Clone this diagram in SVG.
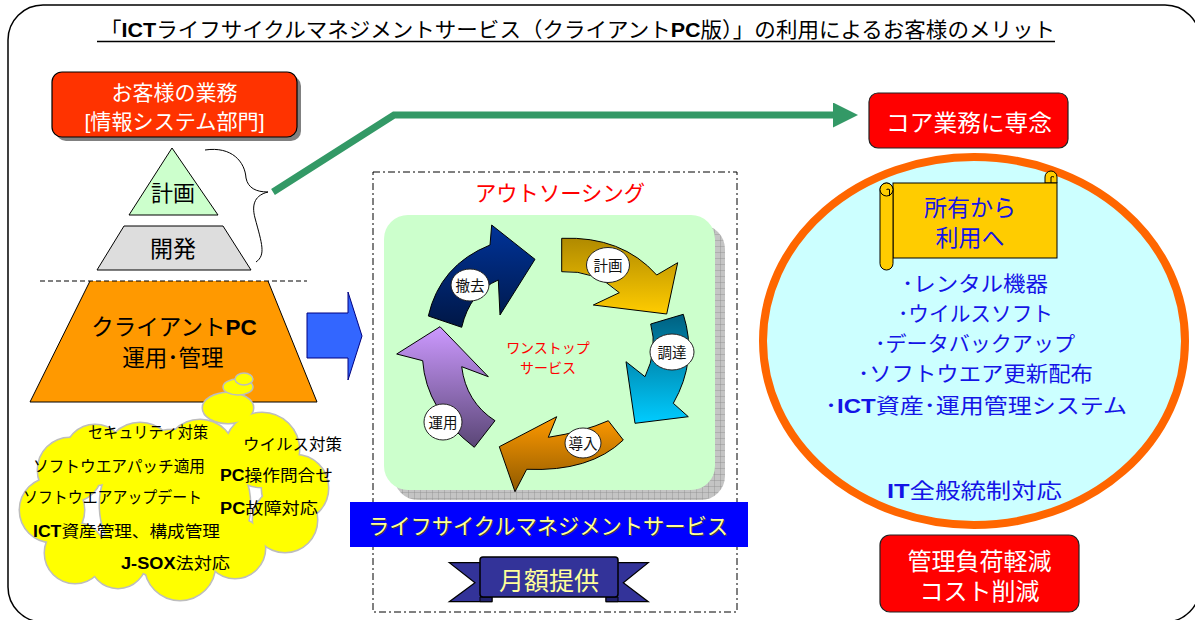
<svg xmlns="http://www.w3.org/2000/svg" xmlns:xlink="http://www.w3.org/1999/xlink" width="1195" height="620" viewBox="0 0 1195 620">
  <style>
    text { font-family: 'Liberation Sans', 'Noto Sans CJK JP', sans-serif; }
    .b { font-weight: bold; }
    .ctr { text-anchor: middle; }
    .edge { stroke: #000; stroke-width: 1; }
    .cloudTxt { font-size: 16px; fill: #000; }
    .lbl { font-size: 14.5px; fill: #111; text-anchor: middle; }
    .lblCircle { fill: #fff; stroke: #222; stroke-width: 1; }
    .cycArrow { stroke: #000; stroke-width: 1; stroke-linejoin: miter; }
    .merit { font-size: 21px; fill: #1414e6; text-anchor: middle; }
  </style>
  <defs>
    <linearGradient id="gNavy" x1="0" y1="0" x2="0" y2="1"><stop offset="0" stop-color="#003399"/><stop offset="1" stop-color="#001746"/></linearGradient>
    <linearGradient id="gGold" x1="0" y1="0" x2="0" y2="1"><stop offset="0" stop-color="#B08A00"/><stop offset="1" stop-color="#FFCC00"/></linearGradient>
    <linearGradient id="gTeal" x1="0" y1="0" x2="0" y2="1"><stop offset="0" stop-color="#006080"/><stop offset="1" stop-color="#00CCFF"/></linearGradient>
    <linearGradient id="gOrange" x1="0" y1="0" x2="0" y2="1"><stop offset="0" stop-color="#FF9900"/><stop offset="1" stop-color="#8F5A00"/></linearGradient>
    <linearGradient id="gPurple" x1="0" y1="0" x2="0" y2="1"><stop offset="0" stop-color="#CC99FF"/><stop offset="1" stop-color="#5A4676"/></linearGradient>
    <pattern id="grid" width="6" height="6" patternUnits="userSpaceOnUse">
      <rect width="6" height="6" fill="#C4C4C4"/>
      <path d="M6,0 L0,0 0,6" fill="none" stroke="#8C8C8C" stroke-width="0.8"/>
    </pattern>
    <marker id="greenHead" markerUnits="userSpaceOnUse" markerWidth="26" markerHeight="26" refX="0" refY="12.5" orient="auto">
      <path d="M0,0 L25,12.5 L0,25 Z" fill="#339966"/>
    </marker>
    <g id="cloudShape">
      <circle cx="70" cy="470" r="32"/>
      <circle cx="52" cy="510" r="32"/>
      <circle cx="75" cy="553" r="30"/>
      <circle cx="118" cy="560" r="28"/>
      <circle cx="180" cy="565" r="35"/>
      <circle cx="235" cy="548" r="30"/>
      <circle cx="285" cy="520" r="32"/>
      <circle cx="295" cy="488" r="33"/>
      <circle cx="262" cy="450" r="37"/>
      <circle cx="200" cy="455" r="35"/>
      <circle cx="140" cy="458" r="35"/>
      <circle cx="95" cy="455" r="30"/>
      <circle cx="175" cy="505" r="75"/>
      <ellipse cx="228" cy="408" rx="25" ry="15"/>
    </g>
  </defs>

  <!-- outer frame -->
  <rect x="8" y="5" width="1192" height="617" rx="35" fill="#fff" stroke="#000" stroke-width="1.5"/>

  <!-- heading -->
  <g id="title">
    <text x="100" y="37" font-size="21" textLength="955" lengthAdjust="spacingAndGlyphs">「<tspan class="b">ICT</tspan>ライフサイクルマネジメントサービス（クライアント<tspan class="b">PC</tspan>版）」の利用によるお客様のメリット</text>
    <line x1="97" y1="41.5" x2="1055" y2="41.5" stroke="#000" stroke-width="1.5"/>
  </g>

  <!-- customer business box -->
  <g id="customer-box">
    <rect x="56" y="76" width="245" height="65" rx="10" fill="#808080"/>
    <rect x="52" y="72" width="245" height="65" rx="10" fill="#FF3300" stroke="#000" stroke-width="1.2"/>
    <text x="174.5" y="100" class="ctr" font-size="21" fill="#fff">お客様の業務</text>
    <text x="174.5" y="129" class="ctr" font-size="21" fill="#fff" textLength="180" lengthAdjust="spacingAndGlyphs">[情報システム部門]</text>
  </g>

  <!-- pyramid -->
  <g id="pyramid-plan">
    <polygon points="172,148 218,215 129,215" fill="#CCFFCC" class="edge"/>
    <text x="173" y="201" class="ctr" font-size="22">計画</text>
  </g>
  <g id="pyramid-dev">
    <polygon points="124,226 223,226 251,270 97,270" fill="#DDDDDD" class="edge"/>
    <text x="173" y="257" class="ctr" font-size="23">開発</text>
  </g>
  <g id="pyramid-ops">
    <polygon points="90,281 268,281 317,402 30,402" fill="#FF9900"/>
    <polyline points="268,281 317,402 30,402 90,281" fill="none" class="edge"/>
    <line x1="40" y1="281" x2="307" y2="281" stroke="#000" stroke-width="1" stroke-dasharray="5 3"/>
    <text x="174" y="335" class="ctr" font-size="22.5">クライアント<tspan class="b">PC</tspan></text>
    <text x="173" y="366" class="ctr" font-size="22.5">運用･管理</text>
  </g>

  <!-- task cloud -->
  <g id="task-cloud">
    <use xlink:href="#cloudShape" fill="#FFFF00" stroke="#BDBDBD" stroke-width="3"/>
    <use xlink:href="#cloudShape" fill="#FFFF00" stroke="none"/>
    <ellipse cx="238" cy="387" rx="15" ry="8" fill="#FFFF00" stroke="#BDBDBD" stroke-width="1.5"/>
    <ellipse cx="244" cy="379" rx="9" ry="6" fill="#FFFF00" stroke="#BDBDBD" stroke-width="1.5"/>
    <text class="cloudTxt" x="88" y="438" textLength="120" lengthAdjust="spacingAndGlyphs">セキュリティ対策</text>
    <text class="cloudTxt" x="243" y="450" textLength="99" lengthAdjust="spacingAndGlyphs">ウイルス対策</text>
    <text class="cloudTxt" x="33" y="472" textLength="172" lengthAdjust="spacingAndGlyphs">ソフトウエアパッチ適用</text>
    <text class="cloudTxt" x="220" y="481" textLength="113" lengthAdjust="spacingAndGlyphs"><tspan class="b">PC</tspan>操作問合せ</text>
    <text class="cloudTxt" x="23" y="503" textLength="179" lengthAdjust="spacingAndGlyphs">ソフトウエアアップデート</text>
    <text class="cloudTxt" x="220" y="514" textLength="98" lengthAdjust="spacingAndGlyphs"><tspan class="b">PC</tspan>故障対応</text>
    <text class="cloudTxt" x="33" y="537" textLength="187" lengthAdjust="spacingAndGlyphs"><tspan class="b">ICT</tspan>資産管理、構成管理</text>
    <text class="cloudTxt" x="121" y="569" textLength="109" lengthAdjust="spacingAndGlyphs"><tspan class="b">J-SOX</tspan>法対応</text>
  </g>

  <!-- outsourcing block arrow -->
  <g id="outsource-arrow">
    <polygon points="307,313 348,313 348,292 362,336 348,380 348,358 307,358" fill="#3366FF" stroke="#000080" stroke-width="1"/>
  </g>

  <!-- outsourcing service -->
  <g id="outsourcing">
    <rect x="373" y="172" width="364" height="440" fill="none" stroke="#000" stroke-width="1" stroke-dasharray="7 3 2 3"/>
    <text x="560" y="201" class="ctr" font-size="22" fill="#FF0000" textLength="170" lengthAdjust="spacingAndGlyphs">アウトソーシング</text>
    <rect x="394" y="225" width="331" height="275" rx="24" fill="url(#grid)"/>
    <rect x="384" y="215" width="331" height="275" rx="24" fill="#CCFFCC"/>
    <text x="548" y="353" class="ctr" font-size="14" fill="#FF0000">ワンストップ</text>
    <text x="548" y="373" class="ctr" font-size="14" fill="#FF0000">サービス</text>
  </g>

  <g id="cycle-remove">
    <path class="cycArrow" fill="url(#gNavy)" d="M428.3,316 Q440,265 490,245 L491.7,225 L535,259.3 L500,315 L498.3,280 Q470,292 461.7,327.3 Z"/>
    <ellipse class="lblCircle" cx="470" cy="285" rx="19" ry="16"/>
    <text class="lbl" x="470" y="290.5">撤去</text>
  </g>
  <g id="cycle-plan">
    <path class="cycArrow" fill="url(#gGold)" d="M561.7,238.3 Q622,236 656.7,275 L677.7,262.7 L666.7,314 L593.3,305 L619.3,292.7 Q595,270 561.7,271.7 Z"/>
    <ellipse class="lblCircle" cx="608" cy="265" rx="21.5" ry="17.5"/>
    <text class="lbl" x="608" y="270.5">計画</text>
  </g>
  <g id="cycle-procure">
    <path class="cycArrow" fill="url(#gTeal)" d="M650.7,324 L683.3,314.3 Q698,360 673.3,403.3 L688.3,416.7 L635,423.3 L626,361.7 L645,376.7 Q658,350 650.7,324 Z"/>
    <ellipse class="lblCircle" cx="672" cy="352" rx="22" ry="18"/>
    <text class="lbl" x="672" y="357.5">調達</text>
  </g>
  <g id="cycle-deploy">
    <path class="cycArrow" fill="url(#gOrange)" d="M608.3,420.7 L623.3,440 Q590,472 526.7,469.3 L515,491.7 L499.3,446.7 L556.7,416.7 L548.3,437.3 Q583,432 608.3,420.7 Z"/>
    <ellipse class="lblCircle" cx="583" cy="443" rx="18" ry="15"/>
    <text class="lbl" x="583" y="448.5">導入</text>
  </g>
  <g id="cycle-operate">
    <path class="cycArrow" fill="url(#gPurple)" d="M474.3,447.3 Q426,410 422.7,360.7 L396.7,354 L440,326.7 L488.3,376.7 L461.7,366.7 Q466,402 495,420.7 Z"/>
    <ellipse class="lblCircle" cx="443" cy="422" rx="19" ry="18"/>
    <text class="lbl" x="443" y="427.5">運用</text>
  </g>

  <!-- lifecycle service banner -->
  <g id="lcm-banner">
    <rect x="350" y="502" width="398" height="45" fill="#0000FF"/>
    <text x="549" y="535" class="ctr" font-size="22" fill="#3a3a3a" textLength="360" lengthAdjust="spacingAndGlyphs">ライフサイクルマネジメントサービス</text>
    <text x="548" y="534" class="ctr" font-size="22" fill="#FFFF99" textLength="360" lengthAdjust="spacingAndGlyphs">ライフサイクルマネジメントサービス</text>
  </g>

  <!-- monthly ribbon -->
  <g id="monthly-ribbon">
    <polygon points="449.3,562.7 492,562.7 492,601.7 449.3,601.7 475,582.7" fill="#333399" stroke="#000" stroke-width="1.2"/>
    <polygon points="648.3,562.7 606,562.7 606,601.7 648.3,601.7 623.3,582.7" fill="#333399" stroke="#000" stroke-width="1.2"/>
    <path d="M480,597 L480,601.7 L492,601.7 L492,597 Z" fill="#22226e" stroke="#000" stroke-width="1"/>
    <path d="M606,597 L606,601.7 L618,601.7 L618,597 Z" fill="#22226e" stroke="#000" stroke-width="1"/>
    <rect x="480" y="557" width="138" height="40" rx="3" fill="#333399" stroke="#000" stroke-width="1.5"/>
    <text x="549" y="590" class="ctr" font-size="25" fill="#FFFF99">月額提供</text>
  </g>

  <!-- connectors -->
  <g id="connectors">
    <path d="M205,150 C232,146 245,162 246,178 C248,188 256,192 268,192 C256,195 251,203 255,218 C262,244 266,255 256,262" fill="none" stroke="#000" stroke-width="1"/>
    <polyline points="273,192 394,115 833,115" fill="none" stroke="#339966" stroke-width="7" marker-end="url(#greenHead)"/>
  </g>

  <!-- core business box -->
  <g id="core-box">
    <rect x="869" y="93" width="199" height="55" rx="9" fill="#FF0000" stroke="#222" stroke-width="1.2"/>
    <text x="969" y="131" class="ctr" font-size="23" fill="#fff" textLength="166" lengthAdjust="spacingAndGlyphs">コア業務に専念</text>
  </g>

  <!-- merits ellipse -->
  <g id="merits">
    <ellipse cx="974" cy="341" rx="211" ry="184" fill="#CCFFFF" stroke="#FF6600" stroke-width="8"/>
    <text class="merit" x="975" y="291" textLength="146" lengthAdjust="spacingAndGlyphs">･レンタル機器</text>
    <text class="merit" x="975.5" y="321" textLength="155" lengthAdjust="spacingAndGlyphs">･ウイルスソフト</text>
    <text class="merit" x="975" y="351" textLength="200" lengthAdjust="spacingAndGlyphs">･データバックアップ</text>
    <text class="merit" x="975.5" y="381" textLength="235" lengthAdjust="spacingAndGlyphs">･ソフトウエア更新配布</text>
    <text class="merit" x="976" y="413" textLength="302" lengthAdjust="spacingAndGlyphs">･<tspan class="b">ICT</tspan>資産･運用管理システム</text>
    <text class="merit" x="974.5" y="498" font-size="23" textLength="175" lengthAdjust="spacingAndGlyphs"><tspan class="b">IT</tspan>全般統制対応</text>
  </g>

  <!-- scroll -->
  <g id="scroll">
    <path d="M1045,183 L1045,177 A6,6 0 0 1 1057,177 L1057,183 Z" fill="#FFCC00" stroke="#000" stroke-width="1"/>
    <rect x="893" y="183" width="164" height="75" fill="#FFCC00" stroke="#000" stroke-width="1"/>
    <path d="M1051,183 L1051,177 A3,3 0 0 1 1054,177" fill="none" stroke="#000" stroke-width="1"/>
    <rect x="880" y="183" width="13" height="87" rx="6.5" fill="#FFCC00" stroke="#000" stroke-width="1"/>
    <circle cx="886.5" cy="189.5" r="6.5" fill="#FFCC00" stroke="#000" stroke-width="1"/>
    <path d="M886.5,189.5 A3,3 0 0 1 889.5,189.5 L889.5,196" fill="none" stroke="#000" stroke-width="1"/>
    <text x="970" y="216" class="ctr" font-size="23" fill="#1414e6">所有から</text>
    <text x="970" y="246" class="ctr" font-size="23" fill="#1414e6">利用へ</text>
  </g>

  <!-- cost box -->
  <g id="cost-box">
    <rect x="880" y="535" width="199" height="77" rx="10" fill="#FF0000" stroke="#222" stroke-width="1.2"/>
    <text x="979.5" y="570" class="ctr" font-size="24" fill="#fff">管理負荷軽減</text>
    <text x="979.5" y="600" class="ctr" font-size="24" fill="#fff">コスト削減</text>
  </g>
</svg>
